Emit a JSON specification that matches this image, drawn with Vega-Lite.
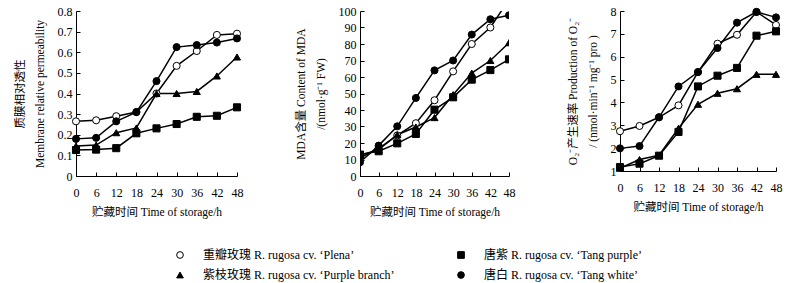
{
  "$schema": "https://vega.github.io/schema/vega-lite/v6.json",
  "padding": {"left": 14, "top": 5, "right": 5, "bottom": 5},
  "background": "white",
  "config": {
    "font": "Liberation Serif, Noto Sans CJK SC",
    "view": {"stroke": null},
    "axis": {"grid": false, "domainColor": "black", "tickColor": "black", "labelColor": "black", "titleColor": "black", "labelFont": "Liberation Serif, Noto Sans CJK SC", "titleFont": "Liberation Serif, Noto Sans CJK SC", "labelFontSize": 12, "titleFontSize": 11.5, "titleFontWeight": "normal", "tickSize": -4, "labelOverlap": false, "labelFlush": false},
    "axisX": {"labelPadding": 15, "titlePadding": 8},
    "axisY": {"labelPadding": 8, "titleLineHeight": 20, "titlePadding": 12},
    "legend": {"labelFont": "Liberation Serif, Noto Sans CJK SC", "labelFontSize": 12, "labelColor": "black", "labelLimit": 400, "columnPadding": 60}
  },
  "datasets": {
    "d": [
      {"p": "m", "s": "重瓣玫瑰 R. rugosa cv. ‘Plena’", "t": 0, "v": 0.265},
      {"p": "m", "s": "重瓣玫瑰 R. rugosa cv. ‘Plena’", "t": 6, "v": 0.27},
      {"p": "m", "s": "重瓣玫瑰 R. rugosa cv. ‘Plena’", "t": 12, "v": 0.29},
      {"p": "m", "s": "重瓣玫瑰 R. rugosa cv. ‘Plena’", "t": 18, "v": 0.31},
      {"p": "m", "s": "重瓣玫瑰 R. rugosa cv. ‘Plena’", "t": 24, "v": 0.40},
      {"p": "m", "s": "重瓣玫瑰 R. rugosa cv. ‘Plena’", "t": 30, "v": 0.534},
      {"p": "m", "s": "重瓣玫瑰 R. rugosa cv. ‘Plena’", "t": 36, "v": 0.606},
      {"p": "m", "s": "重瓣玫瑰 R. rugosa cv. ‘Plena’", "t": 42, "v": 0.684},
      {"p": "m", "s": "重瓣玫瑰 R. rugosa cv. ‘Plena’", "t": 48, "v": 0.69},
      {"p": "m", "s": "唐紫 R. rugosa cv. ‘Tang purple’", "t": 0, "v": 0.126},
      {"p": "m", "s": "唐紫 R. rugosa cv. ‘Tang purple’", "t": 6, "v": 0.128},
      {"p": "m", "s": "唐紫 R. rugosa cv. ‘Tang purple’", "t": 12, "v": 0.135},
      {"p": "m", "s": "唐紫 R. rugosa cv. ‘Tang purple’", "t": 18, "v": 0.207},
      {"p": "m", "s": "唐紫 R. rugosa cv. ‘Tang purple’", "t": 24, "v": 0.231},
      {"p": "m", "s": "唐紫 R. rugosa cv. ‘Tang purple’", "t": 30, "v": 0.252},
      {"p": "m", "s": "唐紫 R. rugosa cv. ‘Tang purple’", "t": 36, "v": 0.287},
      {"p": "m", "s": "唐紫 R. rugosa cv. ‘Tang purple’", "t": 42, "v": 0.292},
      {"p": "m", "s": "唐紫 R. rugosa cv. ‘Tang purple’", "t": 48, "v": 0.333},
      {"p": "m", "s": "紫枝玫瑰 R. rugosa cv. ‘Purple branch’", "t": 0, "v": 0.145},
      {"p": "m", "s": "紫枝玫瑰 R. rugosa cv. ‘Purple branch’", "t": 6, "v": 0.15},
      {"p": "m", "s": "紫枝玫瑰 R. rugosa cv. ‘Purple branch’", "t": 12, "v": 0.21},
      {"p": "m", "s": "紫枝玫瑰 R. rugosa cv. ‘Purple branch’", "t": 18, "v": 0.233},
      {"p": "m", "s": "紫枝玫瑰 R. rugosa cv. ‘Purple branch’", "t": 24, "v": 0.40},
      {"p": "m", "s": "紫枝玫瑰 R. rugosa cv. ‘Purple branch’", "t": 30, "v": 0.40},
      {"p": "m", "s": "紫枝玫瑰 R. rugosa cv. ‘Purple branch’", "t": 36, "v": 0.41},
      {"p": "m", "s": "紫枝玫瑰 R. rugosa cv. ‘Purple branch’", "t": 42, "v": 0.485},
      {"p": "m", "s": "紫枝玫瑰 R. rugosa cv. ‘Purple branch’", "t": 48, "v": 0.577},
      {"p": "m", "s": "唐白 R. rugosa cv. ‘Tang white’", "t": 0, "v": 0.18},
      {"p": "m", "s": "唐白 R. rugosa cv. ‘Tang white’", "t": 6, "v": 0.185},
      {"p": "m", "s": "唐白 R. rugosa cv. ‘Tang white’", "t": 12, "v": 0.265},
      {"p": "m", "s": "唐白 R. rugosa cv. ‘Tang white’", "t": 18, "v": 0.31},
      {"p": "m", "s": "唐白 R. rugosa cv. ‘Tang white’", "t": 24, "v": 0.46},
      {"p": "m", "s": "唐白 R. rugosa cv. ‘Tang white’", "t": 30, "v": 0.625},
      {"p": "m", "s": "唐白 R. rugosa cv. ‘Tang white’", "t": 36, "v": 0.635},
      {"p": "m", "s": "唐白 R. rugosa cv. ‘Tang white’", "t": 42, "v": 0.647},
      {"p": "m", "s": "唐白 R. rugosa cv. ‘Tang white’", "t": 48, "v": 0.667},

      {"p": "d", "s": "重瓣玫瑰 R. rugosa cv. ‘Plena’", "t": 0, "v": 11},
      {"p": "d", "s": "重瓣玫瑰 R. rugosa cv. ‘Plena’", "t": 6, "v": 16.6},
      {"p": "d", "s": "重瓣玫瑰 R. rugosa cv. ‘Plena’", "t": 12, "v": 24.6},
      {"p": "d", "s": "重瓣玫瑰 R. rugosa cv. ‘Plena’", "t": 18, "v": 32},
      {"p": "d", "s": "重瓣玫瑰 R. rugosa cv. ‘Plena’", "t": 24, "v": 45.9},
      {"p": "d", "s": "重瓣玫瑰 R. rugosa cv. ‘Plena’", "t": 30, "v": 63.4},
      {"p": "d", "s": "重瓣玫瑰 R. rugosa cv. ‘Plena’", "t": 36, "v": 80},
      {"p": "d", "s": "重瓣玫瑰 R. rugosa cv. ‘Plena’", "t": 42, "v": 90},
      {"p": "d", "s": "重瓣玫瑰 R. rugosa cv. ‘Plena’", "t": 48, "v": 107},
      {"p": "d", "s": "唐紫 R. rugosa cv. ‘Tang purple’", "t": 0, "v": 13},
      {"p": "d", "s": "唐紫 R. rugosa cv. ‘Tang purple’", "t": 6, "v": 15},
      {"p": "d", "s": "唐紫 R. rugosa cv. ‘Tang purple’", "t": 12, "v": 19.8},
      {"p": "d", "s": "唐紫 R. rugosa cv. ‘Tang purple’", "t": 18, "v": 25.5},
      {"p": "d", "s": "唐紫 R. rugosa cv. ‘Tang purple’", "t": 24, "v": 40.2},
      {"p": "d", "s": "唐紫 R. rugosa cv. ‘Tang purple’", "t": 30, "v": 47.7},
      {"p": "d", "s": "唐紫 R. rugosa cv. ‘Tang purple’", "t": 36, "v": 58.4},
      {"p": "d", "s": "唐紫 R. rugosa cv. ‘Tang purple’", "t": 42, "v": 64.2},
      {"p": "d", "s": "唐紫 R. rugosa cv. ‘Tang purple’", "t": 48, "v": 70.7},
      {"p": "d", "s": "紫枝玫瑰 R. rugosa cv. ‘Purple branch’", "t": 0, "v": 12.5},
      {"p": "d", "s": "紫枝玫瑰 R. rugosa cv. ‘Purple branch’", "t": 6, "v": 16},
      {"p": "d", "s": "紫枝玫瑰 R. rugosa cv. ‘Purple branch’", "t": 12, "v": 25},
      {"p": "d", "s": "紫枝玫瑰 R. rugosa cv. ‘Purple branch’", "t": 18, "v": 29.7},
      {"p": "d", "s": "紫枝玫瑰 R. rugosa cv. ‘Purple branch’", "t": 24, "v": 35.4},
      {"p": "d", "s": "紫枝玫瑰 R. rugosa cv. ‘Purple branch’", "t": 30, "v": 49.3},
      {"p": "d", "s": "紫枝玫瑰 R. rugosa cv. ‘Purple branch’", "t": 36, "v": 62.4},
      {"p": "d", "s": "紫枝玫瑰 R. rugosa cv. ‘Purple branch’", "t": 42, "v": 70},
      {"p": "d", "s": "紫枝玫瑰 R. rugosa cv. ‘Purple branch’", "t": 48, "v": 80.8},
      {"p": "d", "s": "唐白 R. rugosa cv. ‘Tang white’", "t": 0, "v": 8.3},
      {"p": "d", "s": "唐白 R. rugosa cv. ‘Tang white’", "t": 6, "v": 18.4},
      {"p": "d", "s": "唐白 R. rugosa cv. ‘Tang white’", "t": 12, "v": 30.1},
      {"p": "d", "s": "唐白 R. rugosa cv. ‘Tang white’", "t": 18, "v": 47.3},
      {"p": "d", "s": "唐白 R. rugosa cv. ‘Tang white’", "t": 24, "v": 64},
      {"p": "d", "s": "唐白 R. rugosa cv. ‘Tang white’", "t": 30, "v": 70},
      {"p": "d", "s": "唐白 R. rugosa cv. ‘Tang white’", "t": 36, "v": 85.7},
      {"p": "d", "s": "唐白 R. rugosa cv. ‘Tang white’", "t": 42, "v": 95},
      {"p": "d", "s": "唐白 R. rugosa cv. ‘Tang white’", "t": 48, "v": 97.4},

      {"p": "o", "s": "重瓣玫瑰 R. rugosa cv. ‘Plena’", "t": 0, "v": 2.74},
      {"p": "o", "s": "重瓣玫瑰 R. rugosa cv. ‘Plena’", "t": 6, "v": 2.97},
      {"p": "o", "s": "重瓣玫瑰 R. rugosa cv. ‘Plena’", "t": 12, "v": 3.35},
      {"p": "o", "s": "重瓣玫瑰 R. rugosa cv. ‘Plena’", "t": 18, "v": 3.87},
      {"p": "o", "s": "重瓣玫瑰 R. rugosa cv. ‘Plena’", "t": 24, "v": 5.33},
      {"p": "o", "s": "重瓣玫瑰 R. rugosa cv. ‘Plena’", "t": 30, "v": 6.57},
      {"p": "o", "s": "重瓣玫瑰 R. rugosa cv. ‘Plena’", "t": 36, "v": 6.96},
      {"p": "o", "s": "重瓣玫瑰 R. rugosa cv. ‘Plena’", "t": 42, "v": 7.96},
      {"p": "o", "s": "重瓣玫瑰 R. rugosa cv. ‘Plena’", "t": 48, "v": 7.39},
      {"p": "o", "s": "唐紫 R. rugosa cv. ‘Tang purple’", "t": 0, "v": 1.17},
      {"p": "o", "s": "唐紫 R. rugosa cv. ‘Tang purple’", "t": 6, "v": 1.32},
      {"p": "o", "s": "唐紫 R. rugosa cv. ‘Tang purple’", "t": 12, "v": 1.67},
      {"p": "o", "s": "唐紫 R. rugosa cv. ‘Tang purple’", "t": 18, "v": 2.71},
      {"p": "o", "s": "唐紫 R. rugosa cv. ‘Tang purple’", "t": 24, "v": 4.70},
      {"p": "o", "s": "唐紫 R. rugosa cv. ‘Tang purple’", "t": 30, "v": 5.17},
      {"p": "o", "s": "唐紫 R. rugosa cv. ‘Tang purple’", "t": 36, "v": 5.51},
      {"p": "o", "s": "唐紫 R. rugosa cv. ‘Tang purple’", "t": 42, "v": 6.92},
      {"p": "o", "s": "唐紫 R. rugosa cv. ‘Tang purple’", "t": 48, "v": 7.11},
      {"p": "o", "s": "紫枝玫瑰 R. rugosa cv. ‘Purple branch’", "t": 0, "v": 1.12},
      {"p": "o", "s": "紫枝玫瑰 R. rugosa cv. ‘Purple branch’", "t": 6, "v": 1.50},
      {"p": "o", "s": "紫枝玫瑰 R. rugosa cv. ‘Purple branch’", "t": 12, "v": 1.69},
      {"p": "o", "s": "紫枝玫瑰 R. rugosa cv. ‘Purple branch’", "t": 18, "v": 2.87},
      {"p": "o", "s": "紫枝玫瑰 R. rugosa cv. ‘Purple branch’", "t": 24, "v": 3.92},
      {"p": "o", "s": "紫枝玫瑰 R. rugosa cv. ‘Purple branch’", "t": 30, "v": 4.40},
      {"p": "o", "s": "紫枝玫瑰 R. rugosa cv. ‘Purple branch’", "t": 36, "v": 4.60},
      {"p": "o", "s": "紫枝玫瑰 R. rugosa cv. ‘Purple branch’", "t": 42, "v": 5.23},
      {"p": "o", "s": "紫枝玫瑰 R. rugosa cv. ‘Purple branch’", "t": 48, "v": 5.23},
      {"p": "o", "s": "唐白 R. rugosa cv. ‘Tang white’", "t": 0, "v": 1.99},
      {"p": "o", "s": "唐白 R. rugosa cv. ‘Tang white’", "t": 6, "v": 2.09},
      {"p": "o", "s": "唐白 R. rugosa cv. ‘Tang white’", "t": 12, "v": 3.35},
      {"p": "o", "s": "唐白 R. rugosa cv. ‘Tang white’", "t": 18, "v": 4.70},
      {"p": "o", "s": "唐白 R. rugosa cv. ‘Tang white’", "t": 24, "v": 5.33},
      {"p": "o", "s": "唐白 R. rugosa cv. ‘Tang white’", "t": 30, "v": 6.38},
      {"p": "o", "s": "唐白 R. rugosa cv. ‘Tang white’", "t": 36, "v": 7.49},
      {"p": "o", "s": "唐白 R. rugosa cv. ‘Tang white’", "t": 42, "v": 7.96},
      {"p": "o", "s": "唐白 R. rugosa cv. ‘Tang white’", "t": 48, "v": 7.72}
    ]
  },
  "data": {"name": "d"},
  "spacing": 52,
  "resolve": {"legend": {"shape": "shared", "fill": "shared", "stroke": "shared"}},
  "hconcat": [
    {
      "width": 161, "height": 165,
      "transform": [{"filter": "datum.p == 'm'"}],
      "encoding": {
        "x": {"field": "t", "type": "quantitative", "scale": {"domain": [0, 48]}, "axis": {"values": [0,6,12,18,24,30,36,42,48], "title": "贮藏时间 Time of storage/h"}},
        "y": {"field": "v", "type": "quantitative", "scale": {"domain": [0, 0.8]}, "axis": {"values": [0,0.1,0.2,0.3,0.4,0.5,0.6,0.7,0.8], "labelExpr": "datum.value == 0 ? '0' : format(datum.value, '.1f')", "title": ["质膜相对透性", "Membrane relative permeability"]}}
      },
      "layer": [
        {"mark": {"type": "line", "color": "black", "strokeWidth": 1.5},
         "encoding": {"detail": {"field": "s"}}},
        {"mark": {"type": "point", "strokeWidth": 1, "size": 50, "opacity": 1},
         "encoding": {
           "shape": {"field": "s", "type": "nominal", "scale": {"domain": ["重瓣玫瑰 R. rugosa cv. ‘Plena’", "唐紫 R. rugosa cv. ‘Tang purple’", "紫枝玫瑰 R. rugosa cv. ‘Purple branch’", "唐白 R. rugosa cv. ‘Tang white’"], "range": ["circle", "square", "triangle-up", "circle"]}, "legend": {"title": null, "orient": "none", "direction": "horizontal", "legendX": 98, "legendY": 238, "columns": 2, "columnPadding": 60, "rowPadding": 8, "labelOffset": 17, "symbolStrokeWidth": 1, "symbolSize": 45}},
           "fill": {"field": "s", "type": "nominal", "scale": {"domain": ["重瓣玫瑰 R. rugosa cv. ‘Plena’", "唐紫 R. rugosa cv. ‘Tang purple’", "紫枝玫瑰 R. rugosa cv. ‘Purple branch’", "唐白 R. rugosa cv. ‘Tang white’"], "range": ["white", "black", "black", "black"]}, "legend": {"title": null, "orient": "none", "direction": "horizontal", "legendX": 98, "legendY": 238, "columns": 2, "columnPadding": 60, "rowPadding": 8, "labelOffset": 17, "symbolStrokeWidth": 1, "symbolSize": 45}},
           "stroke": {"field": "s", "type": "nominal", "scale": {"domain": ["重瓣玫瑰 R. rugosa cv. ‘Plena’", "唐紫 R. rugosa cv. ‘Tang purple’", "紫枝玫瑰 R. rugosa cv. ‘Purple branch’", "唐白 R. rugosa cv. ‘Tang white’"], "range": ["black", "black", "black", "black"]}, "legend": {"title": null, "orient": "none", "direction": "horizontal", "legendX": 98, "legendY": 238, "columns": 2, "columnPadding": 60, "rowPadding": 8, "labelOffset": 17, "symbolStrokeWidth": 1, "symbolSize": 45}}
         }}
      ]
    },
    {
      "width": 149, "height": 165,
      "transform": [{"filter": "datum.p == 'd'"}],
      "encoding": {
        "x": {"field": "t", "type": "quantitative", "scale": {"domain": [0, 48]}, "axis": {"values": [0,6,12,18,24,30,36,42,48], "title": "贮藏时间 Time of storage/h"}},
        "y": {"field": "v", "type": "quantitative", "scale": {"domain": [0, 100]}, "axis": {"values": [0,10,20,30,40,50,60,70,80,90,100], "title": ["MDA含量 Content of MDA", "/(nmol·g⁻¹ FW)"]}}
      },
      "layer": [
        {"mark": {"type": "line", "color": "black", "strokeWidth": 1.5, "clip": true},
         "encoding": {"detail": {"field": "s"}}},
        {"mark": {"type": "point", "strokeWidth": 1, "size": 50, "opacity": 1, "clip": true},
         "encoding": {
           "shape": {"field": "s", "type": "nominal"},
           "fill": {"field": "s", "type": "nominal"},
           "stroke": {"field": "s", "type": "nominal"}
         }}
      ]
    },
    {
      "width": 156, "height": 160,
      "transform": [{"filter": "datum.p == 'o'"}],
      "encoding": {
        "x": {"field": "t", "type": "quantitative", "scale": {"domain": [0, 48]}, "axis": {"values": [0,6,12,18,24,30,36,42,48], "title": "贮藏时间 Time of storage/h"}},
        "y": {"field": "v", "type": "quantitative", "scale": {"domain": [1, 8], "zero": false}, "axis": {"values": [1,2,3,4,5,6,7,8], "title": ["O₂⁻产生速率 Production of O₂⁻", "/ (nmol·min⁻¹ mg⁻¹ pro )"]}}
      },
      "layer": [
        {"mark": {"type": "line", "color": "black", "strokeWidth": 1.5},
         "encoding": {"detail": {"field": "s"}}},
        {"mark": {"type": "point", "strokeWidth": 1, "size": 50, "opacity": 1},
         "encoding": {
           "shape": {"field": "s", "type": "nominal"},
           "fill": {"field": "s", "type": "nominal"},
           "stroke": {"field": "s", "type": "nominal"}
         }}
      ]
    }
  ]
}
